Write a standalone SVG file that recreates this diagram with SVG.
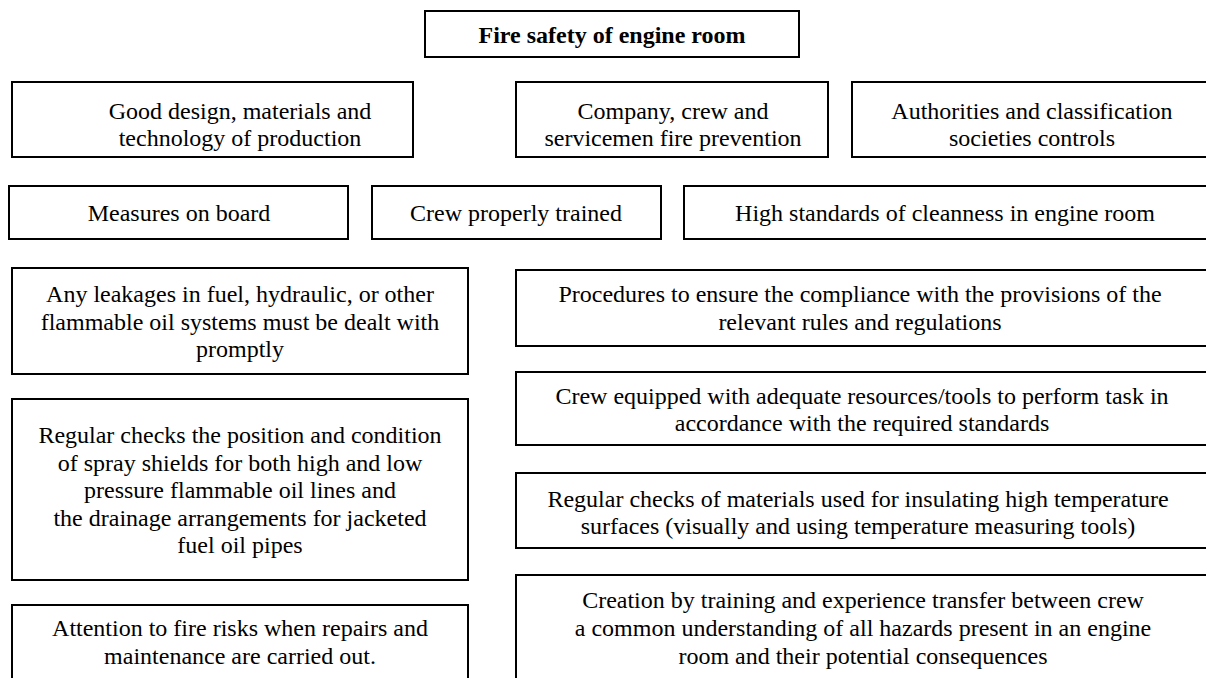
<svg xmlns="http://www.w3.org/2000/svg" width="1206" height="678" viewBox="0 0 1206 678">
<style>
.box{fill:#fff;stroke:#000;stroke-width:2}
.t{font-family:"Liberation Serif","Times New Roman",serif;font-size:24px;fill:#000;text-anchor:middle}
.b{font-weight:bold}
</style>
<rect width="1206" height="678" fill="#fff"/>
<g id="connectors"></g>
<g id="title">
<rect class="box" x="425" y="11" width="374" height="46"/>
<text class="t b" x="612" y="43">Fire safety of engine room</text>
</g>
<g id="good-design">
<rect class="box" x="12" y="82" width="401" height="75"/>
<text class="t" x="240" y="119">Good design, materials and</text>
<text class="t" x="240" y="146">technology of production</text>
</g>
<g id="company-crew">
<rect class="box" x="516" y="82" width="312" height="75"/>
<text class="t" x="673" y="119">Company, crew and</text>
<text class="t" x="673" y="146">servicemen fire prevention</text>
</g>
<g id="authorities">
<rect class="box" x="852" y="82" width="370" height="75"/>
<text class="t" x="1032" y="119">Authorities and classification</text>
<text class="t" x="1032" y="146">societies controls</text>
</g>
<g id="measures">
<rect class="box" x="9" y="186" width="339" height="53"/>
<text class="t" x="179" y="221">Measures on board</text>
</g>
<g id="crew-trained">
<rect class="box" x="372" y="186" width="289" height="53"/>
<text class="t" x="516" y="221">Crew properly trained</text>
</g>
<g id="cleanness">
<rect class="box" x="684" y="186" width="540" height="53"/>
<text class="t" x="945" y="221">High standards of cleanness in engine room</text>
</g>
<g id="leakages">
<rect class="box" x="12" y="268" width="456" height="106"/>
<text class="t" x="240" y="302">Any leakages in fuel, hydraulic, or other</text>
<text class="t" x="240" y="330">flammable oil systems must be dealt with</text>
<text class="t" x="240" y="357">promptly</text>
</g>
<g id="spray-shields">
<rect class="box" x="12" y="399" width="456" height="181"/>
<text class="t" x="240" y="443">Regular checks the position and condition</text>
<text class="t" x="240" y="470.5">of spray shields for both high and low</text>
<text class="t" x="240" y="498">pressure flammable oil lines and</text>
<text class="t" x="240" y="525.5">the drainage arrangements for jacketed</text>
<text class="t" x="240" y="553">fuel oil pipes</text>
</g>
<g id="attention">
<rect class="box" x="12" y="605" width="456" height="100"/>
<text class="t" x="240" y="636">Attention to fire risks when repairs and</text>
<text class="t" x="240" y="664">maintenance are carried out.</text>
</g>
<g id="procedures">
<rect class="box" x="516" y="270" width="710" height="76"/>
<text class="t" x="860" y="302">Procedures to ensure the compliance with the provisions of the</text>
<text class="t" x="860" y="329.5">relevant rules and regulations</text>
</g>
<g id="crew-equipped">
<rect class="box" x="516" y="372" width="710" height="73"/>
<text class="t" x="862" y="403.5">Crew equipped with adequate resources/tools to perform task in</text>
<text class="t" x="862" y="431">accordance with the required standards</text>
</g>
<g id="insulation">
<rect class="box" x="516" y="473" width="710" height="75"/>
<text class="t" x="858" y="506.5">Regular checks of materials used for insulating high temperature</text>
<text class="t" x="858" y="534">surfaces (visually and using temperature measuring tools)</text>
</g>
<g id="creation">
<rect class="box" x="516" y="575" width="710" height="130"/>
<text class="t" x="863" y="608">Creation by training and experience transfer between crew</text>
<text class="t" x="863" y="636">a common understanding of all hazards present in an engine</text>
<text class="t" x="863" y="664">room and their potential consequences</text>
</g>
</svg>
